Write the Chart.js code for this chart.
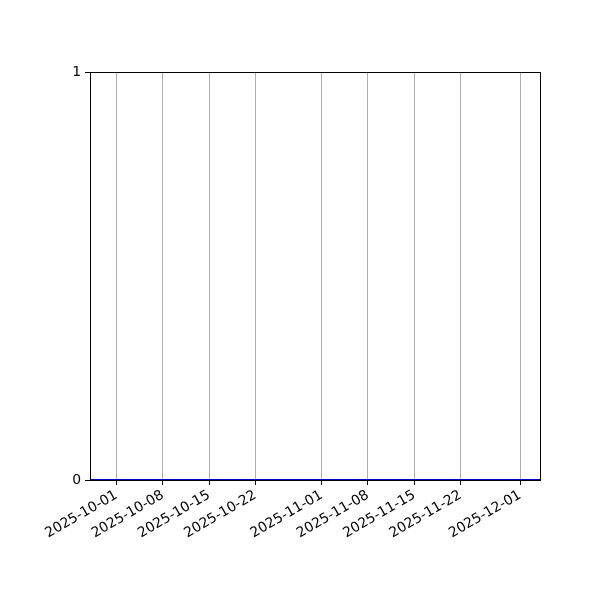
<!DOCTYPE html>
<html>
<head>
<meta charset="utf-8">
<script src="https://cdn.jsdelivr.net/npm/chart.js@4"></script>
<style>
  html, body { margin: 0; padding: 0; background: #fff; }
  #wrap { width: 600px; height: 600px; }
</style>
</head>
<body>
<div id="wrap"><canvas id="grafico"></canvas></div>
<script>
// valores
const fechas = ['2025-09-27', '2025-10-01', '2025-10-08', '2025-10-15', '2025-10-22',
  '2025-11-01', '2025-11-08', '2025-11-15', '2025-11-22', '2025-12-01', '2025-12-04'];
const valores = [0, 0, 0, 0, 0, 0, 0, 0, 0, 0, 0];
const etiquetasX = ['2025-10-01', '2025-10-08', '2025-10-15', '2025-10-22',
  '2025-11-01', '2025-11-08', '2025-11-15', '2025-11-22', '2025-12-01'];
const ticksY = [0, 1];
const limiteX = ['2025-09-27', '2025-12-04'];

const DIA = 86400000;
const aDia = s => Date.parse(s + 'T00:00:00Z') / DIA;
const aTexto = d => new Date(Math.round(d) * DIA).toISOString().slice(0, 10);

const marco = {
  id: 'marco',
  afterDraw(chart) {
    const { ctx, chartArea: a } = chart;
    ctx.save();
    ctx.strokeStyle = '#000';
    ctx.lineWidth = 1;
    ctx.strokeRect(Math.round(a.left) + 0.5, Math.round(a.top) + 0.5,
      Math.round(a.right - a.left), Math.round(a.bottom - a.top));
    ctx.restore();
  }
};

const fuente = { family: 'DejaVu Sans', size: 13.9 };

new Chart(document.getElementById('grafico'), {
  type: 'line',
  data: {
    datasets: [{
      data: fechas.map((f, i) => ({ x: aDia(f), y: valores[i] })),
      borderColor: '#0000c8',
      borderWidth: 2,
      pointRadius: 0,
      clip: 4
    }]
  },
  options: {
    responsive: true,
    maintainAspectRatio: false,
    animation: false,
    layout: { padding: { left: 0, top: 72, right: 60, bottom: 0 } },
    plugins: { legend: { display: false }, tooltip: { enabled: false } },
    scales: {
      x: {
        type: 'linear',
        min: aDia(limiteX[0]),
        max: aDia(limiteX[1]),
        afterBuildTicks: s => { s.ticks = etiquetasX.map(t => ({ value: aDia(t) })); },
        afterFit: s => { s.height = 120; },
        ticks: {
          callback: v => aTexto(v),
          minRotation: 30,
          maxRotation: 30,
          autoSkip: false,
          color: '#000',
          font: fuente,
          padding: 2
        },
        grid: { color: '#b0b0b0', lineWidth: 1, tickColor: '#000', tickLength: 5 },
        border: { color: '#000', width: 1 }
      },
      y: {
        min: 0,
        max: 1,
        afterBuildTicks: s => { s.ticks = ticksY.map(v => ({ value: v })); },
        afterFit: s => { s.width = 90; },
        ticks: { color: '#000', font: fuente, padding: 4 },
        grid: { drawOnChartArea: false, tickColor: '#000', tickLength: 5 },
        border: { color: '#000', width: 1 }
      }
    }
  },
  plugins: [marco]
});
</script>
</body>
</html>
